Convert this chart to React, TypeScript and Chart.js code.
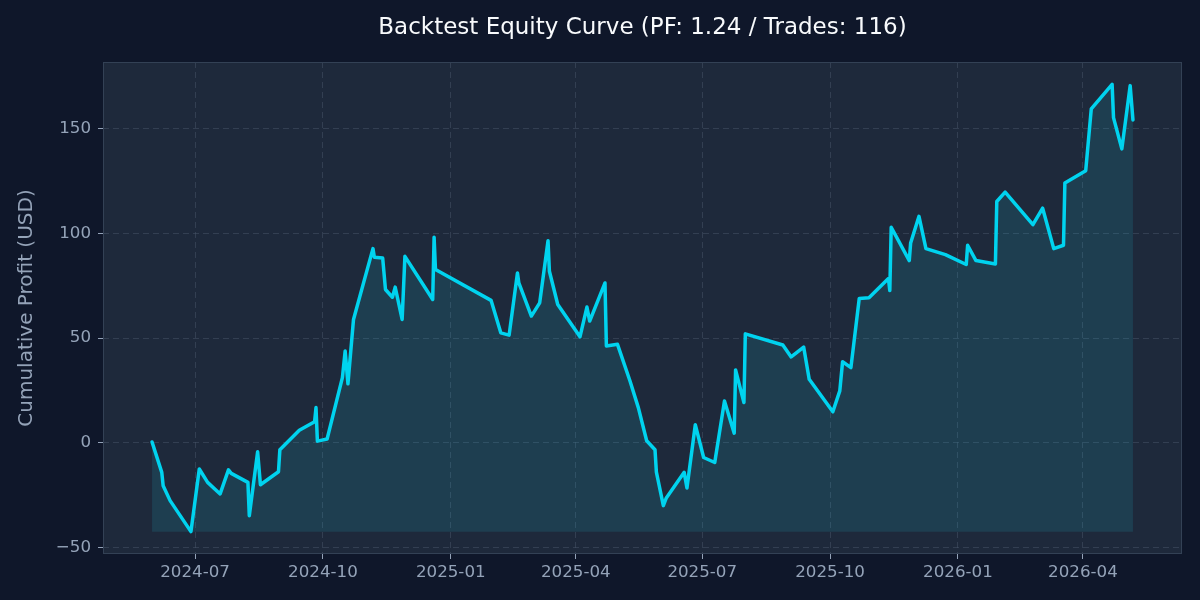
import React, { useEffect, useRef } from 'react';
import { Chart, registerables } from 'chart.js';

Chart.register(...registerables);

const chartTitle = 'Backtest Equity Curve (PF: 1.24 / Trades: 116)';
const yAxisTitle = 'Cumulative Profit (USD)';

const tradeDates = [
  '2024-05-31', '2024-06-07', '2024-06-08', '2024-06-13', '2024-06-28', '2024-07-04', '2024-07-10',
  '2024-07-19', '2024-07-25', '2024-07-27', '2024-08-08', '2024-08-09', '2024-08-15', '2024-08-17',
  '2024-08-30', '2024-08-31', '2024-09-14', '2024-09-25', '2024-09-26', '2024-09-27', '2024-10-04',
  '2024-10-15', '2024-10-17', '2024-10-19', '2024-10-23', '2024-11-06', '2024-11-07', '2024-11-13',
  '2024-11-15', '2024-11-20', '2024-11-22', '2024-11-27', '2024-11-29', '2024-12-19', '2024-12-20',
  '2024-12-21', '2025-01-30', '2025-02-06', '2025-02-12', '2025-02-18', '2025-02-19', '2025-02-28',
  '2025-03-06', '2025-03-12', '2025-03-13', '2025-03-19', '2025-04-04', '2025-04-09', '2025-04-11',
  '2025-04-22', '2025-04-23', '2025-05-01', '2025-05-10', '2025-05-16', '2025-05-22', '2025-05-28',
  '2025-05-29', '2025-06-03', '2025-06-05', '2025-06-18', '2025-06-20', '2025-06-26', '2025-07-02',
  '2025-07-10', '2025-07-17', '2025-07-24', '2025-07-25', '2025-07-31', '2025-08-01', '2025-08-28',
  '2025-09-03', '2025-09-12', '2025-09-16', '2025-10-03', '2025-10-08', '2025-10-10', '2025-10-16',
  '2025-10-22', '2025-10-29', '2025-11-12', '2025-11-13', '2025-11-14', '2025-11-27', '2025-11-28',
  '2025-12-04', '2025-12-09', '2025-12-23', '2026-01-07', '2026-01-08', '2026-01-14', '2026-01-28',
  '2026-01-29', '2026-02-04', '2026-02-24', '2026-03-03', '2026-03-11', '2026-03-18', '2026-03-19',
  '2026-04-03', '2026-04-07', '2026-04-22', '2026-04-23', '2026-04-29', '2026-05-05', '2026-05-07',
];

const equity = [
  0.4, -14.1, -20.5, -27.6, -42.4, -12.5, -18.9,
  -24.4, -12.9, -14.6, -18.9, -34.8, -4.3, -20.0,
  -13.8, -3.3, 6.0, 10.1, 16.8, 0.8, 1.8,
  31.1, 43.8, 28.2, 58.9, 92.7, 88.6, 88.2,
  73.2, 69.5, 74.3, 58.9, 89.0, 68.4, 98.1,
  82.7, 68.0, 52.5, 51.4, 81.1, 76.3, 60.5,
  66.8, 96.5, 81.9, 66.0, 50.6, 64.8, 58.1,
  76.3, 46.2, 47.0, 29.5, 16.8, 1.0, -3.3,
  -14.0, -30.0, -26.5, -14.1, -21.6, 8.6, -7.0,
  -9.4, 20.0, 4.6, 34.8, 19.2, 52.0, 46.7,
  41.0, 45.7, 30.3, 14.8, 24.8, 38.7, 35.9,
  68.9, 69.2, 78.4, 72.7, 102.9, 87.0, 95.4,
  108.1, 92.7, 89.8, 85.1, 94.3, 87.0, 85.4,
  115.2, 119.7, 104.1, 112.0, 92.7, 94.3, 124.0,
  129.9, 159.4, 171.1, 155.2, 140.3, 170.5, 154.1,
];

const xTickLabels = ['2024-07', '2024-10', '2025-01', '2025-04', '2025-07', '2025-10', '2026-01', '2026-04'];
const yTickValues = [-50, 0, 50, 100, 150];

const PAGE_BG = '#0f172a';
const PLOT_BG = '#1e293b';
const LINE_COLOR = '#00d3ef';
const FILL_COLOR = 'rgba(34, 211, 238, 0.12)';
const GRID_COLOR = 'rgba(71, 85, 105, 0.5)';
const SPINE_COLOR = '#334155';
const MUTED = '#94a3b8';
const FONT = 'DejaVu Sans';

const toMs = (s: string) => {
  const [y, m, d] = s.split('-').map(Number);
  return Date.UTC(y, m - 1, d || 1);
};

const areaPlugin = {
  id: 'areaPlugin',
  beforeDraw(chart: any) {
    const { ctx, chartArea: a } = chart;
    ctx.save();
    ctx.fillStyle = PAGE_BG;
    ctx.fillRect(0, 0, chart.width, chart.height);
    ctx.fillStyle = PLOT_BG;
    ctx.fillRect(a.left, a.top, a.right - a.left, a.bottom - a.top);
    ctx.restore();
  },
  afterDraw(chart: any) {
    const { ctx, chartArea: a } = chart;
    ctx.save();
    ctx.strokeStyle = SPINE_COLOR;
    ctx.lineWidth = 1;
    ctx.strokeRect(Math.round(a.left) + 0.5, Math.round(a.top) + 0.5, Math.round(a.right - a.left) - 1, Math.round(a.bottom - a.top) - 1);
    ctx.restore();
  },
};

export default function App() {
  const ref = useRef<HTMLCanvasElement>(null);

  useEffect(() => {
    document.body.style.margin = '0';
    document.body.style.background = PAGE_BG;
    const points = tradeDates.map((d, i) => ({ x: toMs(d), y: equity[i] }));
    const xs = points.map((p) => p.x);
    const xMin = Math.min(...xs);
    const xMax = Math.max(...xs);
    const xPad = (xMax - xMin) * 0.05;
    const yMin = Math.min(...equity);
    const yMax = Math.max(...equity);
    const yPad = (yMax - yMin) * 0.05;
    const xTickValues = xTickLabels.map(toMs);

    const chart = new Chart(ref.current as HTMLCanvasElement, {
      type: 'line',
      data: {
        datasets: [
          {
            data: points,
            borderColor: LINE_COLOR,
            borderWidth: 3.5,
            borderJoinStyle: 'round',
            borderCapStyle: 'round',
            pointRadius: 0,
            tension: 0,
            fill: { value: yMin },
            backgroundColor: FILL_COLOR,
          },
        ],
      },
      options: {
        animation: false,
        responsive: false,
        events: [],
        layout: { padding: { left: 0, right: 18, top: 0, bottom: 0 }, autoPadding: false },
        plugins: {
          legend: { display: false },
          tooltip: { enabled: false },
          title: {
            display: true,
            fullSize: false,
            text: chartTitle,
            color: '#f8fafc',
            font: { family: FONT, size: 23, weight: 'normal' },
            padding: { top: 14.2, bottom: 20.2 },
          },
        },
        scales: {
          x: {
            type: 'linear',
            min: xMin - xPad,
            max: xMax + xPad,
            afterBuildTicks: (s: any) => {
              s.ticks = xTickValues.map((v) => ({ value: v }));
            },
            afterFit: (s: any) => {
              s.height = 46;
            },
            ticks: {
              autoSkip: false,
              maxRotation: 0,
              color: MUTED,
              padding: 4,
              font: { family: FONT, size: 16.7 },
              callback: (_v: any, i: number) => xTickLabels[i],
            },
            grid: {
              color: GRID_COLOR,
              lineWidth: 1,
              tickLength: 5,
              tickColor: MUTED,
              tickWidth: 1,
            },
            border: { display: false, dash: [6, 4] },
          },
          y: {
            type: 'linear',
            min: yMin - yPad,
            max: yMax + yPad,
            afterBuildTicks: (s: any) => {
              s.ticks = yTickValues.map((v) => ({ value: v }));
            },
            afterFit: (s: any) => {
              s.width = 103;
            },
            ticks: {
              color: MUTED,
              padding: 7,
              font: { family: FONT, size: 16.7 },
              callback: (v: any) => (Number(v) < 0 ? '\u2212' + Math.abs(Number(v)) : String(v)),
            },
            grid: {
              color: GRID_COLOR,
              lineWidth: 1,
              tickLength: 5,
              tickColor: MUTED,
              tickWidth: 1,
            },
            border: { display: false, dash: [6, 4] },
            title: {
              display: true,
              text: yAxisTitle,
              color: MUTED,
              font: { family: FONT, size: 20 },
              padding: { top: 15, bottom: 0 },
            },
          },
        },
      } as any,
      plugins: [areaPlugin],
    });
    return () => chart.destroy();
  }, []);

  return (
    <div style={{ width: 1200, height: 600, background: PAGE_BG }}>
      <canvas ref={ref} width={1200} height={600} style={{ display: 'block' }} />
    </div>
  );
}
